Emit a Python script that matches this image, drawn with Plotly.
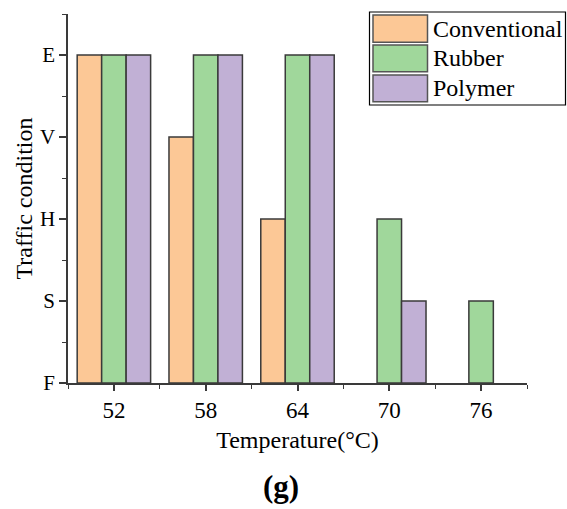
import plotly.graph_objects as go

temperatures = ["52", "58", "64", "70", "76"]
levels = ["F", "S", "H", "V", "E"]
conventional = [4, 3, 2, None, None]
rubber = [4, 4, 4, 2, 1]
polymer = [4, 4, 4, 1, None]
series_names = ["Conventional", "Rubber", "Polymer"]
colors = ["#FCC896", "#A0D79B", "#C1B0D5"]

xpos = list(range(len(temperatures)))
font_family = "Liberation Serif"
edge = "#3a3a3a"

fig = go.Figure()
for name, vals, col in zip(series_names, [conventional, rubber, polymer], colors):
    fig.add_trace(go.Bar(x=xpos, y=vals, name=name, marker=dict(color=col, line=dict(color=edge, width=1.5)),
                         showlegend=False))

# custom legend (box + swatches + labels), in paper coordinates
L, T, W, H = 68, 14, 459, 369  # plot area px
def px(xp):
    return (xp - L) / W
def py(yp):
    return (T + H - yp) / H

shapes = [dict(type="rect", xref="paper", yref="paper", x0=px(369.5), x1=px(565.5), y0=py(105), y1=py(12),
               line=dict(color="black", width=1.2), fillcolor="white", layer="above")]
annotations = []
rows = [(15, 42.3), (45, 71.7), (75, 101.7)]
for (y0, y1), name, col in zip(rows, series_names, colors):
    shapes.append(dict(type="rect", xref="paper", yref="paper", x0=px(373), x1=px(427.5), y0=py(y1), y1=py(y0),
                       line=dict(color="#555555", width=1.5), fillcolor=col, layer="above"))
    annotations.append(dict(xref="paper", yref="paper", x=px(431), y=py((y0 + y1) / 2), text=name,
                            showarrow=False, xanchor="left", yanchor="middle",
                            font=dict(family=font_family, size=24, color="black")))

annotations.append(dict(xref="paper", yref="paper", x=px(281), y=py(486), text="<b>(g)</b>", showarrow=False,
                        xanchor="center", yanchor="middle", font=dict(family=font_family, size=31, color="black")))

fig.update_layout(
    width=567, height=509,
    margin=dict(l=68, r=40, t=14, b=126),
    paper_bgcolor="white", plot_bgcolor="white",
    barmode="group", bargap=0.2, bargroupgap=0,
    font=dict(family=font_family, size=22, color="black"),
    shapes=shapes, annotations=annotations,
    xaxis=dict(range=[-0.5, 4.5], tickvals=xpos, ticktext=temperatures, showline=True, linecolor=edge, linewidth=1.5,
               ticks="outside", ticklen=6, tickcolor=edge, tickwidth=1.5, showgrid=False, zeroline=False,
               tickfont=dict(size=23),
               minor=dict(tickvals=[-0.5, 0.5, 1.5, 2.5, 3.5, 4.5], ticks="outside", ticklen=4, tickcolor=edge,
                          tickwidth=1.2, showgrid=False),
               title=dict(text="Temperature(°C)", font=dict(size=24), standoff=9)),
    yaxis=dict(range=[0, 4.5], tickvals=[0, 1, 2, 3, 4], ticktext=levels, showline=True, linecolor=edge, linewidth=1.5,
               ticks="outside", ticklen=7, tickcolor=edge, tickwidth=1.5, showgrid=False, zeroline=False,
               tickfont=dict(size=21),
               minor=dict(tickvals=[0.5, 1.5, 2.5, 3.5, 4.5], ticks="outside", ticklen=4, tickcolor=edge,
                          tickwidth=1.2, showgrid=False),
               title=dict(text="Traffic condition", font=dict(size=24), standoff=0)),
)

fig.write_html("out.html")
